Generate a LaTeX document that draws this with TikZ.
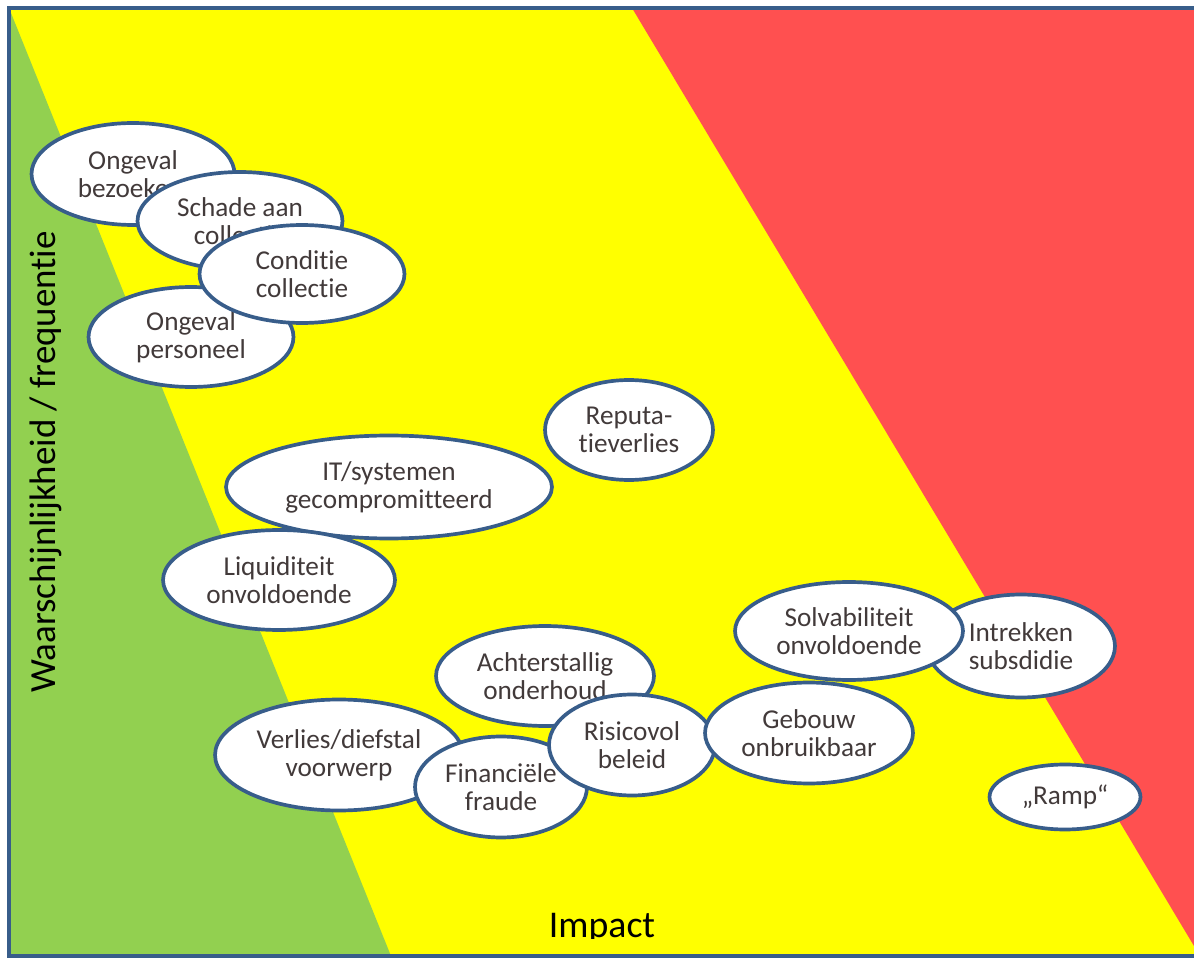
\documentclass[tikz,border=0pt]{standalone}
\usepackage{fontspec}
\setmainfont{Carlito}[Ligatures=NoCommon]
\usepackage{tikz}
\usetikzlibrary{shapes.geometric}
\definecolor{groen}{RGB}{146,208,80}
\definecolor{geel}{RGB}{255,255,0}
\definecolor{rood}{RGB}{255,80,80}
\definecolor{rand}{RGB}{56,93,138}
\definecolor{tekst}{RGB}{66,58,58}

\begin{document}
\begin{tikzpicture}[x=0.02cm,y=-0.02cm,
	risico/.style={ellipse,draw=rand,line width=2.1pt,fill=white,text=tekst,align=center,inner sep=0pt,font=\fontsize{15.5}{16}\selectfont},
	as/.style={text=black,inner sep=0pt}]

		\useasboundingbox (0,0) rectangle (1194,959);
		% achtergrond
		\fill[geel] (9,8) rectangle (1202,956);
		\fill[groen] (9,8) -- (391,956) -- (9,956) -- cycle;
		\fill[rood] (632,8) -- (1202,8) -- (1202,956) -- (1200,956) -- cycle;
		\draw[rand,line width=2.3pt] (9,8) rectangle (1202,956);

		% assen
		\node[as,rotate=90,anchor=base,font=\fontsize{21}{21}\selectfont] (kans) at (55,462) {Waarschijnlijkheid / frequentie};
		\begin{scope}
			\clip (0,0) rectangle (1194,938);
			\node[as,anchor=base,font=\fontsize{21.5}{21.5}\selectfont] (impact) at (602,937) {Impact};
		\end{scope}

		% risico's
		\node[risico,minimum width=4.06cm,minimum height=2.04cm] (bezoek) at (133,174) {Ongeval\\bezoekers};
		\node[risico,minimum width=4.10cm,minimum height=1.96cm] (schade) at (240,221) {Schade aan\\collectie};
		\node[risico,minimum width=4.10cm,minimum height=2.00cm] (personeel) at (191,337) {Ongeval\\personeel};
		\node[risico,minimum width=4.10cm,minimum height=1.96cm] (conditie) at (302,274) {Conditie\\collectie};
		\node[risico,minimum width=3.36cm,minimum height=2.00cm] (reputatie) at (629,430) {Reputa-\\tieverlies};
		\node[risico,minimum width=6.52cm,minimum height=2.06cm] (it) at (389,487) {IT/systemen\\gecompromitteerd};
		\node[risico,minimum width=4.64cm,minimum height=2.00cm] (liquiditeit) at (279,580) {Liquiditeit\\onvoldoende};
		\node[risico,minimum width=4.36cm,minimum height=2.00cm] (onderhoud) at (545,676) {Achterstallig\\onderhoud};
		\node[risico,minimum width=4.96cm,minimum height=2.22cm] (verlies) at (339,755) {Verlies/diefstal\\voorwerp};
		\node[risico,minimum width=3.44cm,minimum height=2.02cm] (fraude) at (501,787) {Financiële\\fraude};
		\node[risico,minimum width=3.32cm,minimum height=2.02cm] (beleid) at (632,745) {Risicovol\\beleid};
		\node[risico,minimum width=4.16cm,minimum height=2.02cm] (gebouw) at (809,733) {Gebouw\\onbruikbaar};
		\node[risico,minimum width=3.76cm,minimum height=2.06cm] (subsidie) at (1021,646) {Intrekken\\subsdidie};
		\node[risico,minimum width=4.56cm,minimum height=1.96cm] (solvabiliteit) at (849,631) {Solvabiliteit\\onvoldoende};
		\node[risico,minimum width=3.02cm,minimum height=1.30cm] (ramp) at (1065,797) {„Ramp“};
	\end{tikzpicture}
\end{document}
